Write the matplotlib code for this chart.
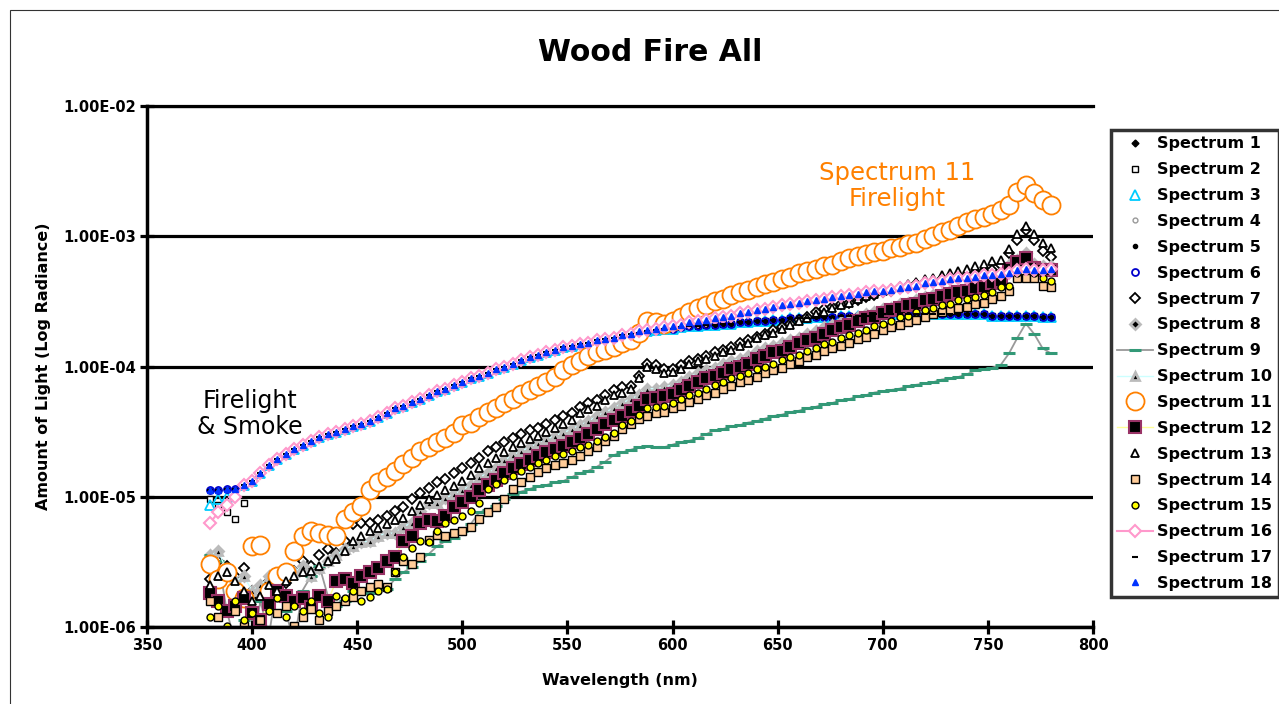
import numpy as np
import matplotlib
matplotlib.use("Agg")
import matplotlib.pyplot as plt
from matplotlib.ticker import FixedLocator, FuncFormatter, NullLocator
from matplotlib.patches import Rectangle

plt.rcParams['font.family'] = ['DejaVu Sans']

# wavelength grid (nm), one reading every 4 nm
wavelength = np.arange(380, 781, 4)

# log10 radiance, rows of 10 points (380-416, 420-456, ...)
# upper bright group (firelight & smoke), high branch
grp_hi = [-4.95, -4.95, -4.94, -4.94, -4.91, -4.88, -4.82, -4.76, -4.71, -4.67,
          -4.63, -4.60, -4.57, -4.54, -4.52, -4.50, -4.48, -4.46, -4.44, -4.42,
          -4.39, -4.36, -4.32, -4.30, -4.27, -4.25, -4.22, -4.19, -4.17, -4.14,
          -4.12, -4.09, -4.07, -4.05, -4.02, -4.00, -3.98, -3.95, -3.93, -3.91,
          -3.89, -3.87, -3.85, -3.84, -3.83, -3.82, -3.80, -3.79, -3.78, -3.76,
          -3.75, -3.73, -3.72, -3.71, -3.70, -3.69, -3.68, -3.66, -3.65, -3.64,
          -3.63, -3.62, -3.61, -3.59, -3.58, -3.57, -3.56, -3.54, -3.53, -3.52,
          -3.51, -3.50, -3.49, -3.48, -3.47, -3.46, -3.45, -3.44, -3.43, -3.42,
          -3.42, -3.41, -3.40, -3.39, -3.38, -3.36, -3.35, -3.34, -3.33, -3.32,
          -3.32, -3.31, -3.30, -3.30, -3.29, -3.28, -3.26, -3.25, -3.26, -3.26,
          -3.25]

# same group, flat branch after ~580 nm
grp_lo = grp_hi[:50] + [
          -3.75, -3.74, -3.73, -3.72, -3.71, -3.71, -3.70, -3.69, -3.69, -3.68,
          -3.68, -3.67, -3.67, -3.66, -3.66, -3.65, -3.65, -3.64, -3.64, -3.63,
          -3.63, -3.63, -3.62, -3.62, -3.62, -3.61, -3.61, -3.61, -3.61, -3.60,
          -3.60, -3.60, -3.60, -3.60, -3.60, -3.60, -3.60, -3.60, -3.60, -3.60,
          -3.60, -3.60, -3.60, -3.61, -3.61, -3.61, -3.61, -3.61, -3.61, -3.62,
          -3.62]

spec7 = [-5.63, -5.49, -5.53, -5.61, -5.55, -5.72, -5.78, -5.65, -5.61, -5.66,
         -5.57, -5.49, -5.53, -5.45, -5.40, -5.43, -5.34, -5.21, -5.20, -5.20,
         -5.18, -5.15, -5.11, -5.08, -5.02, -4.97, -4.93, -4.89, -4.86, -4.82,
         -4.78, -4.74, -4.70, -4.65, -4.62, -4.58, -4.55, -4.52, -4.49, -4.47,
         -4.44, -4.41, -4.38, -4.36, -4.31, -4.28, -4.26, -4.22, -4.18, -4.16,
         -4.15, -4.07, -3.98, -3.99, -4.02, -4.02, -3.99, -3.96, -3.94, -3.92,
         -3.89, -3.87, -3.85, -3.82, -3.80, -3.77, -3.75, -3.72, -3.70, -3.67,
         -3.64, -3.62, -3.58, -3.56, -3.54, -3.52, -3.51, -3.49, -3.47, -3.45,
         -3.43, -3.42, -3.40, -3.38, -3.37, -3.35, -3.34, -3.33, -3.32, -3.31,
         -3.30, -3.28, -3.27, -3.26, -3.22, -3.13, -3.03, -2.95, -3.03, -3.11,
         -3.16]

spec13 = [-5.68, -5.61, -5.58, -5.65, -5.72, -5.80, -5.76, -5.68, -5.72, -5.65,
          -5.61, -5.58, -5.57, -5.53, -5.49, -5.48, -5.42, -5.34, -5.30, -5.26,
          -5.24, -5.21, -5.18, -5.16, -5.11, -5.06, -5.02, -4.99, -4.95, -4.92,
          -4.88, -4.83, -4.78, -4.74, -4.70, -4.66, -4.62, -4.59, -4.56, -4.53,
          -4.50, -4.47, -4.44, -4.41, -4.36, -4.33, -4.30, -4.26, -4.22, -4.20,
          -4.17, -4.09, -4.00, -4.02, -4.05, -4.04, -4.02, -3.98, -3.96, -3.94,
          -3.92, -3.89, -3.87, -3.84, -3.82, -3.78, -3.76, -3.74, -3.71, -3.68,
          -3.65, -3.63, -3.60, -3.58, -3.55, -3.53, -3.51, -3.48, -3.46, -3.44,
          -3.42, -3.40, -3.38, -3.37, -3.35, -3.33, -3.32, -3.30, -3.28, -3.27,
          -3.25, -3.23, -3.21, -3.19, -3.18, -3.10, -2.98, -2.92, -2.98, -3.05,
          -3.09]

spec12 = [-5.74, -5.80, -5.88, -5.84, -5.78, -5.89, -5.95, -5.82, -5.72, -5.76,
          -5.80, -5.78, -5.85, -5.76, -5.80, -5.65, -5.63, -5.66, -5.61, -5.58,
          -5.55, -5.49, -5.46, -5.34, -5.30, -5.20, -5.18, -5.19, -5.15, -5.08,
          -5.04, -5.00, -4.95, -4.91, -4.87, -4.82, -4.78, -4.75, -4.72, -4.69,
          -4.66, -4.63, -4.61, -4.58, -4.55, -4.52, -4.48, -4.44, -4.41, -4.38,
          -4.34, -4.30, -4.25, -4.24, -4.23, -4.21, -4.18, -4.15, -4.12, -4.09,
          -4.07, -4.05, -4.02, -4.00, -3.98, -3.94, -3.92, -3.89, -3.88, -3.85,
          -3.82, -3.80, -3.78, -3.75, -3.72, -3.70, -3.68, -3.65, -3.63, -3.62,
          -3.59, -3.57, -3.55, -3.53, -3.52, -3.49, -3.48, -3.46, -3.44, -3.43,
          -3.42, -3.40, -3.39, -3.36, -3.34, -3.25, -3.20, -3.17, -3.24, -3.26,
          -3.26]

spec10 = [-5.45, -5.42, -5.57, -5.65, -5.61, -5.72, -5.68, -5.61, -5.65, -5.57,
          -5.58, -5.53, -5.61, -5.55, -5.49, -5.45, -5.40, -5.38, -5.35, -5.34,
          -5.30, -5.28, -5.28, -5.23, -5.20, -5.11, -5.05, -5.05, -5.01, -4.98,
          -4.95, -4.91, -4.85, -4.82, -4.78, -4.72, -4.68, -4.65, -4.62, -4.59,
          -4.56, -4.53, -4.51, -4.48, -4.45, -4.42, -4.38, -4.35, -4.32, -4.28,
          -4.25, -4.22, -4.17, -4.17, -4.16, -4.14, -4.12, -4.08, -4.05, -4.03,
          -4.01, -3.98, -3.96, -3.94, -3.92, -3.88, -3.86, -3.84, -3.82, -3.80,
          -3.78, -3.75, -3.73, -3.70, -3.68, -3.66, -3.65, -3.62, -3.60, -3.58,
          -3.56, -3.55, -3.52, -3.51, -3.49, -3.47, -3.45, -3.44, -3.42, -3.41,
          -3.39, -3.38, -3.37, -3.34, -3.32, -3.22, -3.18, -3.13, -3.21, -3.23,
          -3.23]

spec15 = [-5.92, -5.84, -5.99, -5.80, -5.95, -5.89, -6.03, -5.88, -5.78, -5.92,
          -5.84, -5.88, -5.80, -5.89, -5.92, -5.76, -5.78, -5.72, -5.80, -5.77,
          -5.72, -5.71, -5.58, -5.46, -5.39, -5.34, -5.35, -5.26, -5.20, -5.18,
          -5.15, -5.11, -5.05, -4.94, -4.90, -4.87, -4.84, -4.80, -4.77, -4.74,
          -4.72, -4.69, -4.67, -4.65, -4.62, -4.60, -4.57, -4.54, -4.51, -4.45,
          -4.42, -4.37, -4.32, -4.31, -4.30, -4.28, -4.25, -4.22, -4.20, -4.17,
          -4.14, -4.12, -4.09, -4.07, -4.05, -4.02, -4.00, -3.98, -3.95, -3.93,
          -3.91, -3.88, -3.86, -3.83, -3.81, -3.78, -3.76, -3.74, -3.72, -3.69,
          -3.67, -3.65, -3.62, -3.61, -3.58, -3.57, -3.55, -3.53, -3.52, -3.49,
          -3.48, -3.47, -3.45, -3.43, -3.39, -3.38, -3.28, -3.26, -3.28, -3.32,
          -3.34]

spec14 = [-5.80, -5.92, -6.03, -5.88, -5.99, -6.11, -5.95, -6.07, -5.89, -5.84,
          -5.99, -5.92, -5.86, -5.95, -5.88, -5.84, -5.80, -5.77, -5.72, -5.69,
          -5.67, -5.69, -5.58, -5.49, -5.52, -5.46, -5.33, -5.29, -5.30, -5.28,
          -5.26, -5.23, -5.17, -5.12, -5.08, -5.02, -4.94, -4.89, -4.85, -4.81,
          -4.78, -4.76, -4.74, -4.72, -4.69, -4.65, -4.62, -4.57, -4.53, -4.48,
          -4.44, -4.40, -4.38, -4.36, -4.35, -4.32, -4.30, -4.27, -4.25, -4.22,
          -4.20, -4.17, -4.15, -4.12, -4.10, -4.08, -4.05, -4.03, -4.01, -3.98,
          -3.96, -3.93, -3.91, -3.88, -3.86, -3.84, -3.82, -3.79, -3.77, -3.75,
          -3.72, -3.70, -3.68, -3.66, -3.64, -3.62, -3.60, -3.58, -3.57, -3.55,
          -3.54, -3.52, -3.51, -3.48, -3.46, -3.42, -3.32, -3.32, -3.32, -3.38,
          -3.39]

spec9 = [-5.45, -5.49, -5.88, -6.12, -5.95, -6.15, -5.80, -6.07, -5.65, -5.88,
         -6.12, -5.72, -5.61, -5.53, -5.76, -5.84, -5.80, -5.72, -5.71, -5.74,
         -5.68, -5.71, -5.63, -5.58, -5.54, -5.49, -5.44, -5.38, -5.34, -5.32,
         -5.26, -5.21, -5.12, -5.10, -5.07, -5.02, -4.98, -4.96, -4.94, -4.92,
         -4.91, -4.89, -4.88, -4.85, -4.82, -4.80, -4.77, -4.73, -4.68, -4.66,
         -4.64, -4.62, -4.61, -4.62, -4.62, -4.60, -4.58, -4.57, -4.55, -4.52,
         -4.49, -4.48, -4.46, -4.45, -4.43, -4.42, -4.40, -4.38, -4.37, -4.35,
         -4.34, -4.32, -4.31, -4.29, -4.28, -4.26, -4.25, -4.23, -4.22, -4.20,
         -4.19, -4.18, -4.17, -4.15, -4.14, -4.13, -4.12, -4.10, -4.09, -4.08,
         -4.06, -4.03, -4.02, -4.01, -3.99, -3.90, -3.78, -3.67, -3.75, -3.86,
         -3.90]

spec11 = [-5.52, -5.63, -5.58, -5.72, -5.78, -5.38, -5.37, -5.72, -5.61, -5.58,
          -5.42, -5.30, -5.26, -5.28, -5.29, -5.30, -5.17, -5.12, -5.07, -4.95,
          -4.89, -4.85, -4.80, -4.75, -4.70, -4.65, -4.62, -4.58, -4.55, -4.51,
          -4.45, -4.43, -4.39, -4.35, -4.32, -4.28, -4.25, -4.21, -4.18, -4.15,
          -4.12, -4.08, -4.03, -3.99, -3.96, -3.92, -3.89, -3.87, -3.85, -3.82,
          -3.80, -3.74, -3.65, -3.66, -3.67, -3.65, -3.62, -3.58, -3.55, -3.53,
          -3.50, -3.48, -3.45, -3.43, -3.41, -3.39, -3.37, -3.35, -3.33, -3.31,
          -3.28, -3.27, -3.25, -3.23, -3.22, -3.19, -3.17, -3.15, -3.14, -3.12,
          -3.11, -3.09, -3.08, -3.06, -3.05, -3.02, -3.00, -2.97, -2.95, -2.92,
          -2.89, -2.87, -2.85, -2.83, -2.80, -2.76, -2.66, -2.61, -2.67, -2.72,
          -2.76]

# first few readings where single spectra leave the bright group
start2 = [-5.02, -5.06, -5.12, -5.17, -5.05]
start3 = [-5.06, -5.02, -5.00, -4.97]
start16 = [-5.20, -5.12, -5.06, -5.00]

log_rad = {
    1: grp_hi,
    2: start2 + grp_lo[5:],
    3: start3 + grp_lo[4:],
    4: grp_lo,
    5: grp_lo,
    6: grp_lo,
    7: spec7,
    8: spec10,
    9: spec9,
    10: spec10,
    11: spec11,
    12: spec12,
    13: spec13,
    14: spec14,
    15: spec15,
    16: start16 + grp_hi[4:],
    17: grp_lo,
    18: grp_hi,
}

styles = {
    1: dict(ls='none', marker='D', ms=3.5, mfc='black', mec='black'),
    2: dict(ls='none', marker='s', ms=5, mfc='white', mec='black', mew=1),
    3: dict(ls='none', marker='^', ms=7, mfc='none', mec='#00CCFF', mew=1.3),
    4: dict(ls='none', marker='o', ms=3.5, mfc='white', mec='#999999', mew=1),
    5: dict(ls='none', marker='o', ms=3, mfc='black', mec='black'),
    6: dict(ls='none', marker='o', ms=5, mfc='none', mec='#0000CC', mew=1.3),
    7: dict(ls='none', marker='D', ms=5, mfc='white', mec='black', mew=1.3),
    8: dict(ls='none', marker='D', ms=5, mfc='black', mec='#BBBBBB', mew=2),
    9: dict(ls='-', color='#999999', lw=1.3, marker='_', ms=8, mec='#339977', mew=2.2),
    10: dict(ls='-', color='#CCFFFF', lw=1, marker='^', ms=6, mfc='black', mec='#BBBBBB', mew=2),
    11: dict(ls='none', marker='o', ms=13, mfc='white', mec='#FF8000', mew=1.3),
    12: dict(ls='-', color='#FFFF99', lw=1, marker='s', ms=8, mfc='black', mec='#993366', mew=1.5),
    13: dict(ls='none', marker='^', ms=6, mfc='white', mec='black', mew=1.3),
    14: dict(ls='none', marker='s', ms=5.5, mfc='#FFCC99', mec='black', mew=1),
    15: dict(ls='none', marker='o', ms=5, mfc='#FFFF00', mec='black', mew=1),
    16: dict(ls='-', color='#FF99CC', lw=1.5, marker='D', ms=6, mfc='white', mec='#FF99CC', mew=1.5),
    17: dict(ls='none', marker='_', ms=5, mec='black', mew=1.5),
    18: dict(ls='none', marker='^', ms=5, mfc='#0033FF', mec='#0033FF'),
}

fig = plt.figure(figsize=(12.79, 7.04), dpi=100)
ax = fig.add_axes([0.1149, 0.1094, 0.7397, 0.7400])

for n in range(1, 19):
    y = np.power(10.0, np.array(log_rad[n]))
    ax.plot(wavelength, y, label=f'Spectrum {n}', **styles[n])

ax.set_yscale('log')
ax.set_ylim(1e-6, 1e-2)
ax.set_xlim(350, 800)
ax.xaxis.set_major_locator(FixedLocator(range(350, 801, 50)))
ax.yaxis.set_major_locator(FixedLocator([1e-6, 1e-5, 1e-4, 1e-3, 1e-2]))
ax.yaxis.set_minor_locator(NullLocator())
ax.yaxis.set_major_formatter(FuncFormatter(lambda v, p: f'{v:.2E}'))
ax.grid(axis='y', color='black', lw=2.3)
ax.set_axisbelow(True)

for side in ['left', 'bottom']:
    ax.spines[side].set_linewidth(2.5)
ax.spines['top'].set_linewidth(2.3)
ax.spines['right'].set_visible(False)
ax.tick_params(direction='inout', length=10, width=2.3, labelsize=10.5, pad=3)
for lab in ax.get_xticklabels() + ax.get_yticklabels():
    lab.set_fontweight('bold')

ax.set_xlabel('Wavelength (nm)', fontsize=11.5, fontweight='bold')
ax.set_ylabel('Amount of Light (Log Radiance)', fontsize=11.5, fontweight='bold')
ax.xaxis.set_label_coords(0.5, -0.089)
ax.yaxis.set_label_coords(-0.1015, 0.5)

fig.text(0.508, 0.926, 'Wood Fire All', ha='center', va='center',
         fontsize=21.5, fontweight='bold')

ax.text(0.793, 0.846, 'Spectrum 11\nFirelight', transform=ax.transAxes,
        ha='center', va='center', fontsize=17.5, color='#FF8000', linespacing=1.1)
ax.text(0.109, 0.409, 'Firelight\n& Smoke', transform=ax.transAxes,
        ha='center', va='center', fontsize=17, color='black', linespacing=1.1)

leg = fig.legend(loc='upper left', bbox_to_anchor=(1111 / 1279, 1 - 130 / 704),
                 bbox_transform=fig.transFigure, frameon=True, fancybox=False,
                 borderaxespad=0, borderpad=0.4, labelspacing=0.68,
                 handlelength=2.2, handletextpad=0.3, numpoints=1,
                 prop={'weight': 'bold', 'size': 11.5})
leg.get_frame().set_edgecolor('black')
leg.get_frame().set_linewidth(2.5)

# thin frame around the chart area
fig.patches.append(Rectangle((10 / 1279, -0.1), 1.2, 1 - 10 / 704 + 0.1,
                             transform=fig.transFigure, fill=False,
                             edgecolor='#333333', lw=0.8))

fig.savefig('out.png', dpi=100)
